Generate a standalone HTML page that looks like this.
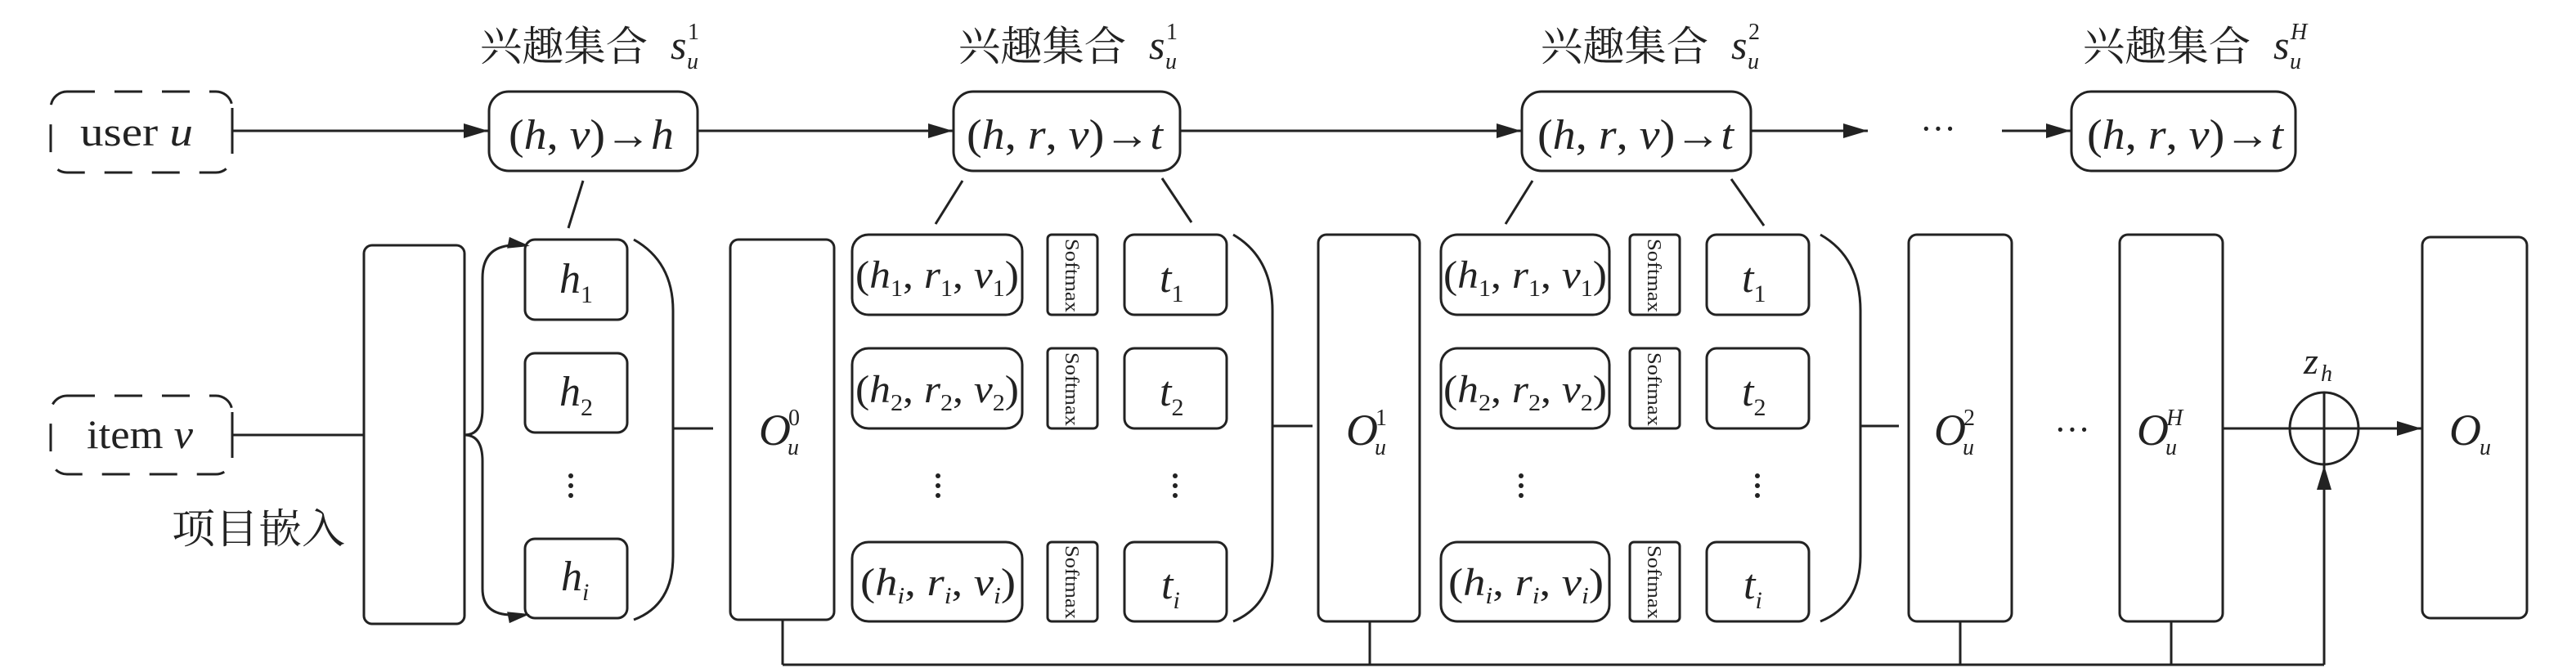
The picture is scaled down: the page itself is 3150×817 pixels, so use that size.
<!DOCTYPE html>
<html><head><meta charset="utf-8"><style>
html,body{margin:0;padding:0;background:#fff;}
svg{display:block;}
text{font-family:"Liberation Serif","Noto Serif CJK SC",serif;fill:#222;}
.cjk{font-family:"Liberation Serif","Noto Serif CJK SC","Noto Sans CJK SC",serif;}
.i{font-style:italic;}
</style></head><body>
<svg width="3150" height="817" viewBox="0 0 3150 817" xmlns="http://www.w3.org/2000/svg">
<defs>
<marker id="A" viewBox="0 0 30 18" refX="30" refY="9" markerWidth="30" markerHeight="18" orient="auto" markerUnits="userSpaceOnUse">
<path d="M0,0 L30,9 L0,18 z" fill="#222"/></marker>
</defs>
<g stroke="#222" stroke-width="3" fill="none">
<rect x="62" y="112" width="222" height="99" rx="20" stroke-dasharray="34 24"/>
<rect x="62" y="484" width="222" height="96" rx="20" stroke-dasharray="34 24"/>
<line x1="284" y1="132" x2="284" y2="188"/>
<line x1="284" y1="504" x2="284" y2="560"/>
<line x1="284" y1="160" x2="597" y2="160" marker-end="url(#A)"/>
<line x1="853" y1="160" x2="1165" y2="160" marker-end="url(#A)"/>
<line x1="1443" y1="160" x2="1860" y2="160" marker-end="url(#A)"/>
<line x1="2141" y1="160" x2="2284" y2="160" marker-end="url(#A)"/>
<line x1="2448" y1="160" x2="2532" y2="160" marker-end="url(#A)"/>
<rect x="598" y="112" width="255" height="97" rx="24"/>
<rect x="1166" y="112" width="277" height="97" rx="24"/>
<rect x="1861" y="112" width="280" height="97" rx="24"/>
<rect x="2533" y="112" width="274" height="97" rx="24"/>
<line x1="713" y1="221" x2="695" y2="279"/>
<line x1="1177" y1="221" x2="1144" y2="274"/>
<line x1="1421" y1="218" x2="1457" y2="272"/>
<line x1="1874" y1="221" x2="1841" y2="274"/>
<line x1="2117" y1="219" x2="2157" y2="276"/>
<line x1="284" y1="532" x2="445" y2="532"/>
<rect x="445" y="300" width="123" height="463" rx="10"/>
<path d="M568,532 Q590,532 590,500 L590,340 Q590,302 626,300" />
<path d="M568,532 Q590,532 590,564 L590,720 Q590,752 626,752" />
<path d="M622,302 L642,300 L624,292 z" fill="#222"/>
<path d="M622,750 L642,752 L624,760 z" fill="#222"/>
<rect x="642" y="293" width="125" height="98" rx="12"/>
<rect x="642" y="432" width="125" height="97" rx="12"/>
<rect x="642" y="659" width="125" height="97" rx="12"/>
<path d="M775,293 Q823,320 823,380 L823,680 Q823,740 775,758"/>
<line x1="823" y1="524" x2="872" y2="524"/>
<rect x="893" y="293" width="127" height="465" rx="10"/>
<rect x="1042" y="287" width="208" height="98" rx="20"/>
<rect x="1042" y="426" width="208" height="98" rx="20"/>
<rect x="1042" y="663" width="208" height="97" rx="20"/>
<rect x="1281" y="287" width="61" height="98" rx="5"/>
<rect x="1281" y="426" width="61" height="98" rx="5"/>
<rect x="1281" y="663" width="61" height="97" rx="5"/>
<rect x="1375" y="287" width="125" height="98" rx="12"/>
<rect x="1375" y="426" width="125" height="98" rx="12"/>
<rect x="1375" y="663" width="125" height="97" rx="12"/>
<path d="M1508,287 Q1556,315 1556,380 L1556,680 Q1556,740 1508,760"/>
<line x1="1556" y1="521" x2="1605" y2="521"/>
<rect x="1612" y="287" width="124" height="473" rx="10"/>
<rect x="1762" y="287" width="206" height="98" rx="20"/>
<rect x="1762" y="426" width="206" height="98" rx="20"/>
<rect x="1762" y="663" width="206" height="97" rx="20"/>
<rect x="1993" y="287" width="61" height="98" rx="5"/>
<rect x="1993" y="426" width="61" height="98" rx="5"/>
<rect x="1993" y="663" width="61" height="97" rx="5"/>
<rect x="2087" y="287" width="125" height="98" rx="12"/>
<rect x="2087" y="426" width="125" height="98" rx="12"/>
<rect x="2087" y="663" width="125" height="97" rx="12"/>
<path d="M2226,287 Q2275,315 2275,380 L2275,680 Q2275,740 2226,760"/>
<line x1="2275" y1="521" x2="2322" y2="521"/>
<rect x="2334" y="287" width="126" height="473" rx="10"/>
<rect x="2592" y="287" width="126" height="473" rx="10"/>
<rect x="2962" y="290" width="128" height="466" rx="10"/>
<line x1="2718" y1="524" x2="2961" y2="524" marker-end="url(#A)"/>
<ellipse cx="2842" cy="524" rx="42" ry="44"/>
<line x1="2842" y1="480" x2="2842" y2="568"/>
<line x1="2842" y1="813" x2="2842" y2="569" marker-end="url(#A)"/>
<line x1="957" y1="813" x2="2842" y2="813"/>
<line x1="957" y1="758" x2="957" y2="813"/>
<line x1="1675" y1="760" x2="1675" y2="813"/>
<line x1="2397" y1="760" x2="2397" y2="813"/>
<line x1="2655" y1="760" x2="2655" y2="813"/>
</g>
<g fill="#222">
<circle cx="698" cy="582" r="3"/><circle cx="698" cy="594" r="3"/><circle cx="698" cy="606" r="3"/>
<circle cx="1147" cy="582" r="3"/><circle cx="1147" cy="594" r="3"/><circle cx="1147" cy="606" r="3"/>
<circle cx="1437" cy="582" r="3"/><circle cx="1437" cy="594" r="3"/><circle cx="1437" cy="606" r="3"/>
<circle cx="1860" cy="582" r="3"/><circle cx="1860" cy="594" r="3"/><circle cx="1860" cy="606" r="3"/>
<circle cx="2149" cy="582" r="3"/><circle cx="2149" cy="594" r="3"/><circle cx="2149" cy="606" r="3"/>
</g>
<g font-size="50">
<text class="cjk" x="587" y="74" textLength="205" lengthAdjust="spacingAndGlyphs">兴趣集合</text>
<text x="820" y="72" class="i">s</text><text x="841" y="48" font-size="28">1</text><text x="840" y="84" font-size="28" class="i">u</text>
<text class="cjk" x="1172" y="74" textLength="205" lengthAdjust="spacingAndGlyphs">兴趣集合</text>
<text x="1405" y="72" class="i">s</text><text x="1426" y="48" font-size="28">1</text><text x="1425" y="84" font-size="28" class="i">u</text>
<text class="cjk" x="1884" y="74" textLength="205" lengthAdjust="spacingAndGlyphs">兴趣集合</text>
<text x="2117" y="72" class="i">s</text><text x="2138" y="48" font-size="28">2</text><text x="2137" y="84" font-size="28" class="i">u</text>
<text class="cjk" x="2547" y="74" textLength="205" lengthAdjust="spacingAndGlyphs">兴趣集合</text>
<text x="2780" y="72" class="i">s</text><text x="2801" y="48" font-size="28" class="i">H</text><text x="2800" y="84" font-size="28" class="i">u</text>
</g>
<g font-size="50">
<text x="98" y="178" textLength="138" lengthAdjust="spacingAndGlyphs">user <tspan class="i">u</tspan></text>
<text x="106" y="548" textLength="130" lengthAdjust="spacingAndGlyphs">item <tspan class="i">v</tspan></text>
<text class="cjk" x="210" y="664" textLength="212" lengthAdjust="spacingAndGlyphs">项目嵌入</text>
</g>
<g font-size="52">
<text x="622" y="182" textLength="202" lengthAdjust="spacingAndGlyphs">(<tspan class="i">h</tspan>, <tspan class="i">v</tspan>)→<tspan class="i">h</tspan></text>
<text x="1182" y="182" textLength="240" lengthAdjust="spacingAndGlyphs">(<tspan class="i">h</tspan>, <tspan class="i">r</tspan>, <tspan class="i">v</tspan>)→<tspan class="i">t</tspan></text>
<text x="1880" y="182" textLength="240" lengthAdjust="spacingAndGlyphs">(<tspan class="i">h</tspan>, <tspan class="i">r</tspan>, <tspan class="i">v</tspan>)→<tspan class="i">t</tspan></text>
<text x="2552" y="182" textLength="240" lengthAdjust="spacingAndGlyphs">(<tspan class="i">h</tspan>, <tspan class="i">r</tspan>, <tspan class="i">v</tspan>)→<tspan class="i">t</tspan></text>
<text x="2348" y="172" font-size="44">···</text>
<text x="2512" y="540" font-size="44">···</text>
</g>
<g font-size="52">
<text x="684" y="358" class="i">h<tspan font-size="30" font-style="normal" dy="12">1</tspan></text>
<text x="684" y="496" class="i">h<tspan font-size="30" font-style="normal" dy="12">2</tspan></text>
<text x="686" y="722" class="i">h<tspan font-size="30" dy="12">i</tspan></text>
</g>
<g font-size="48">
<text x="1046" y="352" textLength="200" lengthAdjust="spacingAndGlyphs">(<tspan class="i">h</tspan><tspan font-size="28" dy="10">1</tspan><tspan dy="-10">, </tspan><tspan class="i">r</tspan><tspan font-size="28" dy="10">1</tspan><tspan dy="-10">, </tspan><tspan class="i">v</tspan><tspan font-size="28" dy="10">1</tspan><tspan dy="-10">)</tspan></text>
<text x="1046" y="492" textLength="200" lengthAdjust="spacingAndGlyphs">(<tspan class="i">h</tspan><tspan font-size="28" dy="10">2</tspan><tspan dy="-10">, </tspan><tspan class="i">r</tspan><tspan font-size="28" dy="10">2</tspan><tspan dy="-10">, </tspan><tspan class="i">v</tspan><tspan font-size="28" dy="10">2</tspan><tspan dy="-10">)</tspan></text>
<text x="1052" y="728" textLength="190" lengthAdjust="spacingAndGlyphs">(<tspan class="i">h</tspan><tspan class="i" font-size="28" dy="10">i</tspan><tspan dy="-10">, </tspan><tspan class="i">r</tspan><tspan class="i" font-size="28" dy="10">i</tspan><tspan dy="-10">, </tspan><tspan class="i">v</tspan><tspan class="i" font-size="28" dy="10">i</tspan><tspan dy="-10">)</tspan></text>
<g transform="translate(719,0)">
<text x="1046" y="352" textLength="200" lengthAdjust="spacingAndGlyphs">(<tspan class="i">h</tspan><tspan font-size="28" dy="10">1</tspan><tspan dy="-10">, </tspan><tspan class="i">r</tspan><tspan font-size="28" dy="10">1</tspan><tspan dy="-10">, </tspan><tspan class="i">v</tspan><tspan font-size="28" dy="10">1</tspan><tspan dy="-10">)</tspan></text>
<text x="1046" y="492" textLength="200" lengthAdjust="spacingAndGlyphs">(<tspan class="i">h</tspan><tspan font-size="28" dy="10">2</tspan><tspan dy="-10">, </tspan><tspan class="i">r</tspan><tspan font-size="28" dy="10">2</tspan><tspan dy="-10">, </tspan><tspan class="i">v</tspan><tspan font-size="28" dy="10">2</tspan><tspan dy="-10">)</tspan></text>
<text x="1052" y="728" textLength="190" lengthAdjust="spacingAndGlyphs">(<tspan class="i">h</tspan><tspan class="i" font-size="28" dy="10">i</tspan><tspan dy="-10">, </tspan><tspan class="i">r</tspan><tspan class="i" font-size="28" dy="10">i</tspan><tspan dy="-10">, </tspan><tspan class="i">v</tspan><tspan class="i" font-size="28" dy="10">i</tspan><tspan dy="-10">)</tspan></text>
</g>
</g>
<g font-size="52">
<text x="1418" y="357" class="i">t<tspan font-size="30" font-style="normal" dy="12">1</tspan></text>
<text x="1418" y="496" class="i">t<tspan font-size="30" font-style="normal" dy="12">2</tspan></text>
<text x="1420" y="732" class="i">t<tspan font-size="30" dy="12">i</tspan></text>
<text x="2130" y="357" class="i">t<tspan font-size="30" font-style="normal" dy="12">1</tspan></text>
<text x="2130" y="496" class="i">t<tspan font-size="30" font-style="normal" dy="12">2</tspan></text>
<text x="2132" y="732" class="i">t<tspan font-size="30" dy="12">i</tspan></text>
</g>
<g font-size="24">
<text transform="translate(1303,292) rotate(90)" textLength="90" lengthAdjust="spacingAndGlyphs">Softmax</text>
<text transform="translate(1303,431) rotate(90)" textLength="90" lengthAdjust="spacingAndGlyphs">Softmax</text>
<text transform="translate(1303,667) rotate(90)" textLength="90" lengthAdjust="spacingAndGlyphs">Softmax</text>
<text transform="translate(2015,292) rotate(90)" textLength="90" lengthAdjust="spacingAndGlyphs">Softmax</text>
<text transform="translate(2015,431) rotate(90)" textLength="90" lengthAdjust="spacingAndGlyphs">Softmax</text>
<text transform="translate(2015,667) rotate(90)" textLength="90" lengthAdjust="spacingAndGlyphs">Softmax</text>
</g>
<g font-size="54">
<text x="928" y="544" class="i">O</text><text x="964" y="520" font-size="28">0</text><text x="963" y="556" font-size="28" class="i">u</text>
<text x="1646" y="544" class="i">O</text><text x="1682" y="520" font-size="28">1</text><text x="1681" y="556" font-size="28" class="i">u</text>
<text x="2365" y="544" class="i">O</text><text x="2401" y="520" font-size="28">2</text><text x="2400" y="556" font-size="28" class="i">u</text>
<text x="2613" y="544" class="i">O</text><text x="2649" y="520" font-size="28" class="i">H</text><text x="2648" y="556" font-size="28" class="i">u</text>
<text x="2995" y="544" class="i">O</text><text x="3032" y="556" font-size="28" class="i">u</text>
<text x="2817" y="457" class="i" font-size="46">z</text><text x="2838" y="466" class="i" font-size="28">h</text>
</g>
</svg>
</body></html>
